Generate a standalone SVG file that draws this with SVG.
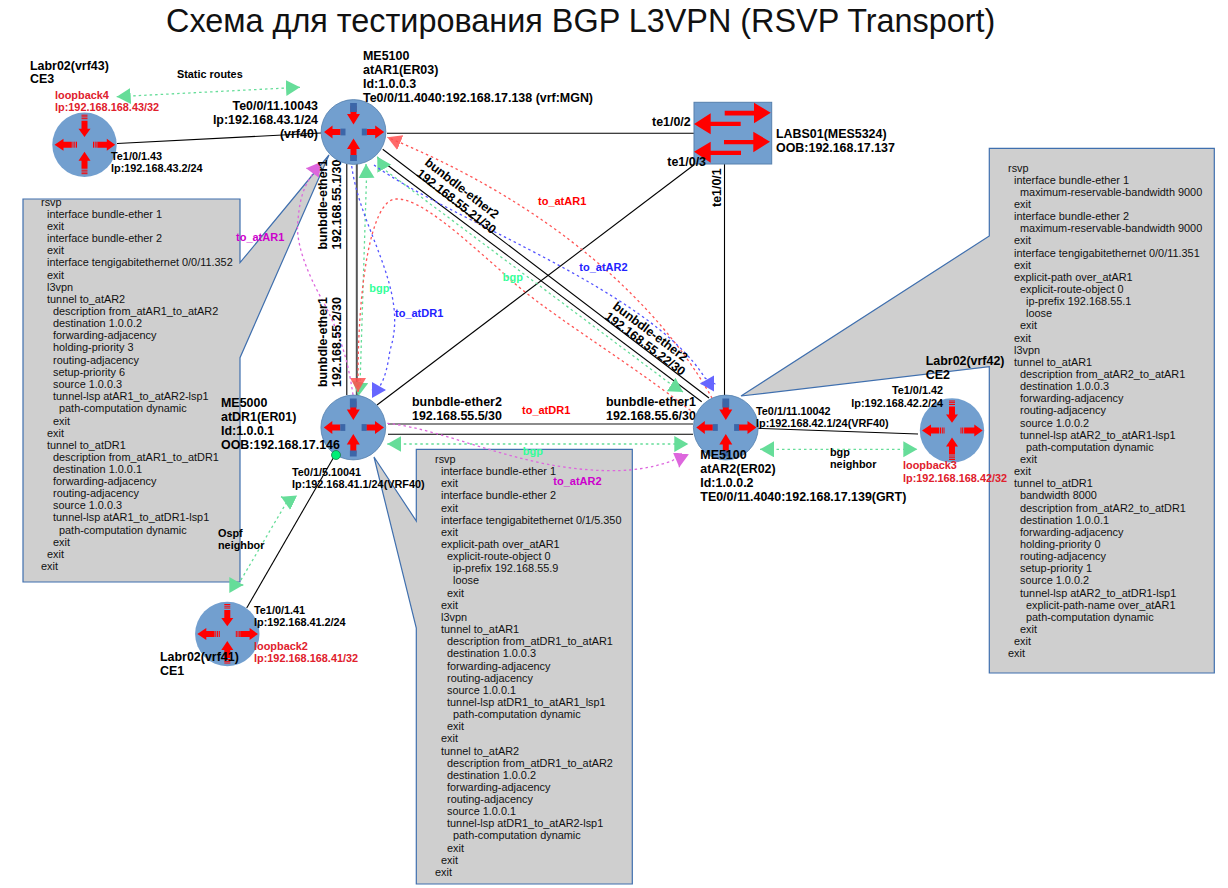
<svg xmlns="http://www.w3.org/2000/svg" xmlns:xlink="http://www.w3.org/1999/xlink" width="1228" height="888" viewBox="0 0 1228 888">
<style>
text{font-family:"Liberation Sans",Arial,sans-serif}
.title{font-size:32.4px;fill:#111}
.b{font-size:12.45px;font-weight:bold;fill:#000}
.s{font-size:10.85px;font-weight:bold;fill:#000}
.lo{font-size:10.9px;font-weight:bold;fill:#e0202c}
.cfg{font-size:10.9px;fill:#111}
.call{fill:#cfcfcf;stroke:#3f6fae;stroke-width:1.2}
.body{fill:#729fcf;stroke:#5680ad;stroke-width:.8}
.ln{fill:none;stroke:#000;stroke-width:1.1}
.ln2{fill:none;stroke:#555;stroke-width:2}
.d{fill:none;stroke-width:1.3;stroke-dasharray:2.5 3}
.g{stroke:#66dd99;marker-start:url(#ag);marker-end:url(#ag)}
.r{stroke:#ff5555;marker-end:url(#ar)}
.bl{stroke:#5555ff;marker-end:url(#ab)}
.m{stroke:#dd66dd;marker-end:url(#am)}
.tr{fill:#f00;font-size:11px;font-weight:bold}
.tb{fill:#22f;font-size:11px;font-weight:bold}
.tm{fill:#cc00cc;font-size:11px;font-weight:bold}
.tg{fill:#33ff99;font-size:11px;font-weight:bold}
.red{fill:#f00}
.stub{fill:#3c66a8}
.tick{stroke:#f00;stroke-width:1;fill:none}
</style>
<defs>
<marker id="ag" markerUnits="userSpaceOnUse" markerWidth="16" markerHeight="18" refX="14" refY="8" orient="auto-start-reverse"><path d="M0 0L14 8L0 16Z" fill="#66dd99"/></marker>
<marker id="ar" markerUnits="userSpaceOnUse" markerWidth="16" markerHeight="18" refX="14" refY="8" orient="auto"><path d="M0 0L14 8L0 16Z" fill="#ff5050" fill-opacity=".85"/></marker>
<marker id="ab" markerUnits="userSpaceOnUse" markerWidth="16" markerHeight="18" refX="14" refY="8" orient="auto"><path d="M0 0L14 8L0 16Z" fill="#6666ff"/></marker>
<marker id="am" markerUnits="userSpaceOnUse" markerWidth="16" markerHeight="18" refX="14" refY="8" orient="auto"><path d="M0 0L14 8L0 16Z" fill="#dd66dd"/></marker>
<g id="router">
<circle class="body" r="32.4"/>
<path class="red" d="M-3-26H3V-18H6.5L0-7.5L-6.500-18H-3Z"/><rect class="stub" x="-3.400" y="-29" width="6.800" height="9"/>
<path class="red" d="M-3 26H3V17H6.500L0 6.500L-6.500 17H-3Z"/><rect class="stub" x="-3.400" y="23" width="6.800" height="6"/>
<path class="red" d="M-13-3V3H-21V6.500L-29.500 0L-21-6.500V-3Z"/><rect class="stub" x="-13" y="-3.400" width="5" height="6.800"/>
<path class="red" d="M13-3V3H21.700V6.500L30.700 0L21.700-6.500V-3Z"/><rect class="stub" x="8.300" y="-3.400" width="5" height="6.800"/>
</g>
<g id="ce">
<circle class="body" r="32.2" style="stroke:none"/>
<path class="red" d="M-3-24H3V-16H6L0-7.700L-6-16H-3Z"/>
<path class="tick" d="M-3-29.500H3M-3-27.800H3M-3-26H3"/>
<path class="red" d="M-3 24H3V16H6L0 7L-6 16H-3Z"/>
<path class="tick" d="M-3 25.500H3M-3 27.300H3M-3 29H3"/>
<path class="red" d="M-12.700-3V3H-21V6L-30 0L-21-6V-3Z"/>
<path class="tick" d="M-11.500-3V3M-9.700-3V3M-8-3V3"/>
<path class="red" d="M13-3V3H22.300V6L30.700 0L22.300-6V-3Z"/>
<path class="tick" d="M9-3V3M10.700-3V3M12.400-3V3"/>
</g>
</defs>
<rect width="1228" height="888" fill="#fff"/>
<text class="title" x="166" y="31.500">Схема для тестирования BGP L3VPN (RSVP Transport)</text>

<g id="callout-atAR1">
<path class="call" d="M23 199H240V262.700L329 155L240 357.700V582H23Z"/>
<text class="cfg">
<tspan x="41" y="206">rsvp</tspan><tspan x="47" y="218">interface bundle-ether 1</tspan><tspan x="47" y="230">exit</tspan><tspan x="47" y="242">interface bundle-ether 2</tspan><tspan x="47" y="254">exit</tspan><tspan x="47" y="266">interface tengigabitethernet 0/0/11.352</tspan><tspan x="47" y="279">exit</tspan><tspan x="47" y="291">l3vpn</tspan><tspan x="47" y="303">tunnel to_atAR2</tspan><tspan x="53" y="315">description from_atAR1_to_atAR2</tspan><tspan x="53" y="327">destination 1.0.0.2</tspan><tspan x="53" y="339">forwarding-adjacency</tspan><tspan x="53" y="351">holding-priority 3</tspan><tspan x="53" y="364">routing-adjacency</tspan><tspan x="53" y="376">setup-priority 6</tspan><tspan x="53" y="388">source 1.0.0.3</tspan><tspan x="53" y="400">tunnel-lsp atAR1_to_atAR2-lsp1</tspan><tspan x="59" y="412">path-computation dynamic</tspan><tspan x="53" y="425">exit</tspan><tspan x="47" y="437">exit</tspan><tspan x="47" y="449">tunnel to_atDR1</tspan><tspan x="53" y="461">description from_atAR1_to_atDR1</tspan><tspan x="53" y="473">destination 1.0.0.1</tspan><tspan x="53" y="485">forwarding-adjacency</tspan><tspan x="53" y="497">routing-adjacency</tspan><tspan x="53" y="509">source 1.0.0.3</tspan><tspan x="53" y="521">tunnel-lsp atAR1_to_atDR1-lsp1</tspan><tspan x="59" y="534">path-computation dynamic</tspan><tspan x="53" y="546">exit</tspan><tspan x="47" y="558">exit</tspan><tspan x="41" y="570">exit</tspan>
</text>
</g>

<g id="callout-atDR1">
<path class="call" d="M416.300 449.300H632.300V884H416.300V628L374 457L416.300 521Z"/>
<text class="cfg">
<tspan x="435" y="463">rsvp</tspan><tspan x="441" y="475">interface bundle-ether 1</tspan><tspan x="441" y="487">exit</tspan><tspan x="441" y="499">interface bundle-ether 2</tspan><tspan x="441" y="512">exit</tspan><tspan x="441" y="524">interface tengigabitethernet 0/1/5.350</tspan><tspan x="441" y="536">exit</tspan><tspan x="441" y="548">explicit-path over_atAR1</tspan><tspan x="447" y="560">explicit-route-object 0</tspan><tspan x="453" y="572">ip-prefix 192.168.55.9</tspan><tspan x="453" y="584">loose</tspan><tspan x="447" y="597">exit</tspan><tspan x="441" y="609">exit</tspan><tspan x="441" y="621">l3vpn</tspan><tspan x="441" y="633">tunnel to_atAR1</tspan><tspan x="447" y="645">description from_atDR1_to_atAR1</tspan><tspan x="447" y="657">destination 1.0.0.3</tspan><tspan x="447" y="670">forwarding-adjacency</tspan><tspan x="447" y="682">routing-adjacency</tspan><tspan x="447" y="694">source 1.0.0.1</tspan><tspan x="447" y="706">tunnel-lsp atDR1_to_atAR1_lsp1</tspan><tspan x="453" y="718">path-computation dynamic</tspan><tspan x="447" y="730">exit</tspan><tspan x="441" y="742">exit</tspan><tspan x="441" y="755">tunnel to_atAR2</tspan><tspan x="447" y="767">description from_atDR1_to_atAR2</tspan><tspan x="447" y="779">destination 1.0.0.2</tspan><tspan x="447" y="791">forwarding-adjacency</tspan><tspan x="447" y="803">routing-adjacency</tspan><tspan x="447" y="815">source 1.0.0.1</tspan><tspan x="447" y="827">tunnel-lsp atDR1_to_atAR2-lsp1</tspan><tspan x="453" y="839">path-computation dynamic</tspan><tspan x="447" y="852">exit</tspan><tspan x="441" y="864">exit</tspan><tspan x="435" y="876">exit</tspan>
</text>
</g>

<g id="callout-atAR2">
<path class="call" d="M989.300 148.300H1214.300V673H989.300V366.700L741 396L989.300 236Z"/>
<text class="cfg">
<tspan x="1008" y="172">rsvp</tspan><tspan x="1014" y="184">interface bundle-ether 1</tspan><tspan x="1020" y="196">maximum-reservable-bandwidth 9000</tspan><tspan x="1014" y="208">exit</tspan><tspan x="1014" y="220">interface bundle-ether 2</tspan><tspan x="1020" y="232">maximum-reservable-bandwidth 9000</tspan><tspan x="1014" y="244">exit</tspan><tspan x="1014" y="257">interface tengigabitethernet 0/0/11.351</tspan><tspan x="1014" y="269">exit</tspan><tspan x="1014" y="281">explicit-path over_atAR1</tspan><tspan x="1020" y="293">explicit-route-object 0</tspan><tspan x="1026" y="305">ip-prefix 192.168.55.1</tspan><tspan x="1026" y="317">loose</tspan><tspan x="1020" y="329">exit</tspan><tspan x="1014" y="342">exit</tspan><tspan x="1014" y="354">l3vpn</tspan><tspan x="1014" y="366">tunnel to_atAR1</tspan><tspan x="1020" y="378">description from_atAR2_to_atAR1</tspan><tspan x="1020" y="390">destination 1.0.0.3</tspan><tspan x="1020" y="402">forwarding-adjacency</tspan><tspan x="1020" y="414">routing-adjacency</tspan><tspan x="1020" y="427">source 1.0.0.2</tspan><tspan x="1020" y="439">tunnel-lsp atAR2_to_atAR1-lsp1</tspan><tspan x="1026" y="451">path-computation dynamic</tspan><tspan x="1020" y="463">exit</tspan><tspan x="1014" y="475">exit</tspan><tspan x="1014" y="487">tunnel to_atDR1</tspan><tspan x="1020" y="499">bandwidth 8000</tspan><tspan x="1020" y="512">description from_atAR2_to_atDR1</tspan><tspan x="1020" y="524">destination 1.0.0.1</tspan><tspan x="1020" y="536">forwarding-adjacency</tspan><tspan x="1020" y="548">holding-priority 0</tspan><tspan x="1020" y="560">routing-adjacency</tspan><tspan x="1020" y="572">setup-priority 1</tspan><tspan x="1020" y="584">source 1.0.0.2</tspan><tspan x="1020" y="597">tunnel-lsp atAR2_to_atDR1-lsp1</tspan><tspan x="1026" y="609">explicit-path-name over_atAR1</tspan><tspan x="1026" y="621">path-computation dynamic</tspan><tspan x="1020" y="633">exit</tspan><tspan x="1014" y="645">exit</tspan><tspan x="1008" y="657">exit</tspan>
</text>
</g>

<g id="connectors">
<path class="ln" d="M117 143.500L321 133"/>
<path class="ln" d="M387 133.300H694"/>
<path class="ln" d="M724.500 164V395"/>
<path class="ln" d="M694.500 164.500L377 405"/>
<path class="ln" d="M346.800 164V395"/>
<path class="ln2" d="M356.800 164V395"/>
<path class="ln" d="M382.700 149.300L709 398"/>
<path class="ln" d="M378 158L701.700 401.700"/>
<path class="ln2" style="stroke:#666;stroke-width:1.6" d="M388 424H693"/>
<path class="ln" d="M388 434.300H693"/>
<path class="ln" d="M757 428.300L918 434"/>
<path class="ln" d="M246.700 608L335 455"/>
<path class="d g" d="M116.700 96.700L300 87.300"/>
<path class="d g" d="M366 164L366.500 178L360 385L358.500 396"/>
<path class="d g" d="M377.300 156.700L385 170L672 385L683 392"/>
<path class="d g" d="M387.300 444H688.300"/>
<path class="d g" d="M760 449.300H917.300"/>
<path class="d g" d="M243.300 585L238 585L288 500L281 496.700"/>
<path class="d r" d="M712 398C680 340 590 220 387.300 137.300"/>
<path class="d r" d="M695 414C620 355 540 310 500 270C460 235 420 198 396 199C370 200 358 290 358 379L358 392"/>
<path class="d bl" d="M374 165C450 220 650 290 705 378L714 383.500L700 383.500"/>
<path class="d bl" d="M351.700 166C360 230 410 290 390 350C388 365 385 378 380 386L372 390L386 390"/>
<path class="d m" d="M353 395C348 360 340 335 325 305C305 270 295 240 298 220C300 195 305 185 314 172L321 170L306 168.300"/>
<path class="d m" d="M387.300 423.300C450 430 520 470 610 470.700C640 471 660 465 672 461L680.800 454.300L679.300 467.300"/>
<g>
<text class="s" x="177" y="78">Static routes</text>
<text class="b" transform="translate(327 249.500) rotate(-90)">bunbdle-ether1</text>
<text class="b" transform="translate(341 249.500) rotate(-90)">192.168.55.1/30</text>
<text class="b" transform="translate(327 387) rotate(-90)">bunbdle-ether1</text>
<text class="b" transform="translate(341 387) rotate(-90)">192.168.55.2/30</text>
<text class="b" transform="translate(424 164) rotate(38)">bunbdle-ether2</text>
<text class="b" transform="translate(415.700 175) rotate(38)">192.168.55.21/30</text>
<text class="b" transform="translate(612 308) rotate(37)">bunbdle-ether2</text>
<text class="b" transform="translate(604 318) rotate(37)">192.168.55.22/30</text>
<text class="b" x="412" y="406">bunbdle-ether2</text>
<text class="b" x="412" y="419.500">192.168.55.5/30</text>
<text class="b" x="606" y="406">bunbdle-ether1</text>
<text class="b" x="606" y="419.500">192.168.55.6/30</text>
<text class="tr" x="538" y="205">to_atAR1</text>
<text class="tr" x="522" y="414">to_atDR1</text>
<text class="tb" x="579.300" y="271">to_atAR2</text>
<text class="tb" x="395" y="316.700">to_atDR1</text>
<text class="tm" x="236" y="241">to_atAR1</text>
<text class="tm" x="553.300" y="485">to_atAR2</text>
<text class="tg" x="369.300" y="292">bgp</text>
<text class="tg" x="502.700" y="281">bgp</text>
<text class="tg" x="522.700" y="455">bgp</text>
<text class="s" x="830" y="455.700">bgp</text>
<text class="s" x="830" y="467.700">neighbor</text>
<text class="s" x="218" y="536.700">Ospf</text>
<text class="s" x="218" y="549">neighbor</text>
</g>
</g>

<g id="node-atAR1">
<use href="#router" x="353.500" y="132"/>
<text class="b" x="363" y="60">ME5100</text>
<text class="b" x="363" y="74">atAR1(ER03)</text>
<text class="b" x="363" y="88">Id:1.0.0.3</text>
<text class="b" x="363" y="102">Te0/0/11.4040:192.168.17.138 (vrf:MGN)</text>
<text class="b" x="318" y="109.500" text-anchor="end">Te0/0/11.10043</text>
<text class="b" x="318" y="123.500" text-anchor="end">lp:192.168.43.1/24</text>
<text class="b" x="318" y="137.500" text-anchor="end">(vrf40)</text>
</g>
<g id="node-atDR1">
<use href="#router" x="353.300" y="427.500"/>
<circle cx="336" cy="455" r="4.500" fill="#00ee77" stroke="#1a7a4a" stroke-width=".8"/>
<text class="b" x="221" y="406.500">ME5000</text>
<text class="b" x="221" y="420.500">atDR1(ER01)</text>
<text class="b" x="221" y="434.500">Id:1.0.0.1</text>
<text class="b" x="221" y="449">OOB:192.168.17.146</text>
<text class="s" x="292" y="475.700">Te0/1/5.10041</text>
<text class="s" x="292" y="487.700">Ip:192.168.41.1/24(VRF40)</text>
</g>
<g id="node-atAR2">
<use href="#router" x="725.800" y="427.500"/>
<text class="b" x="700.300" y="458.500">ME5100</text>
<text class="b" x="700.300" y="472.500">atAR2(ER02)</text>
<text class="b" x="700.300" y="486.500">Id:1.0.0.2</text>
<text class="b" x="700.300" y="500.500">TE0/0/11.4040:192.168.17.139(GRT)</text>
<text class="s" x="756" y="415">Te0/1/11.10042</text>
<text class="s" x="756" y="427.300">Ip:192.168.42.1/24(VRF40)</text>
</g>
<g id="node-LABS01">
<rect x="694" y="102.300" width="77.700" height="61.700" fill="#729fcf" stroke="#5680ad"/>
<path class="red" d="M724.700 110.800H754V102.700L770.700 112.700L754 123.300V115.500H724.700Z"/>
<path class="red" d="M740.700 121.700H710.700V113.300L694 124L710.700 134.300V126H740.700Z"/>
<path class="red" d="M724 140H753.300V131.700L770 141.700L753.300 152.300V144.300H724Z"/>
<path class="red" d="M741 150.700H710.700V141.700L694 151.700L710.700 162.700V155H741Z"/>
<text class="b" x="776" y="138.300">LABS01(MES5324)</text>
<text class="b" x="776" y="151.700">OOB:192.168.17.137</text>
<text class="b" x="652" y="126">te1/0/2</text>
<text class="b" x="667.300" y="165.700">te1/0/3</text>
<text class="b" transform="translate(721 207) rotate(-90)">te1/0/1</text>
</g>
<g id="node-CE3">
<use href="#ce" x="84.500" y="144.700"/>
<text class="b" x="30" y="69.500">Labr02(vrf43)</text>
<text class="b" x="30" y="83">CE3</text>
<text class="lo" x="55" y="99">loopback4</text>
<text class="lo" x="55" y="111">lp:192.168.168.43/32</text>
<text class="s" x="111" y="160">Te1/0/1.43</text>
<text class="s" x="111" y="172">lp:192.168.43.2/24</text>
</g>
<g id="node-CE2">
<use href="#ce" x="952" y="430.500"/>
<text class="b" x="925.700" y="365">Labr02(vrf42)</text>
<text class="b" x="925.700" y="378.500">CE2</text>
<text class="s" x="943" y="394" text-anchor="end">Te1/0/1.42</text>
<text class="s" x="943" y="406.700" text-anchor="end">lp:192.168.42.2/24</text>
<text class="lo" x="903" y="469.300">loopback3</text>
<text class="lo" x="903" y="481.700">lp:192.168.168.42/32</text>
</g>
<g id="node-CE1">
<use href="#ce" x="227.300" y="634"/>
<text class="b" x="160" y="661">Labr02(vrf41)</text>
<text class="b" x="160" y="674.500">CE1</text>
<text class="s" x="254" y="614">Te1/0/1.41</text>
<text class="s" x="254" y="626">lp:192.168.41.2/24</text>
<text class="lo" x="254" y="650">loopback2</text>
<text class="lo" x="254" y="661.700">lp:192.168.168.41/32</text>
</g>
</svg>
